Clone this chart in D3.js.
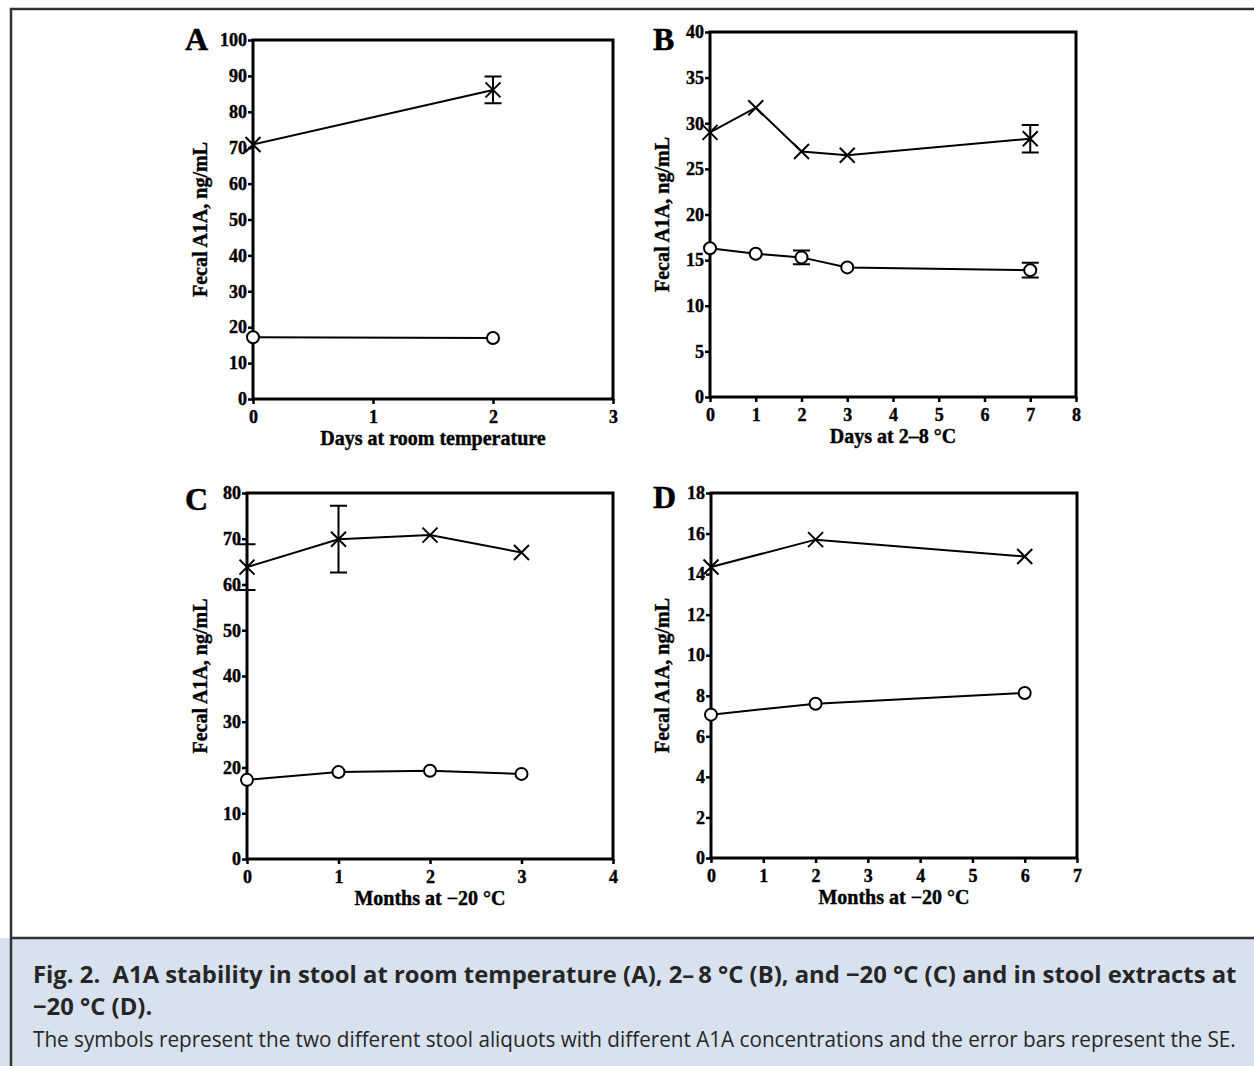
<!DOCTYPE html>
<html>
<head>
<meta charset="utf-8">
<script src="https://cdn.jsdelivr.net/npm/d3@7"></script>
<style>
  body { margin: 0; background: #fff; }
  svg { display: block; }
</style>
</head>
<body>
<svg width="1254" height="1066"></svg>
<script>
// Panel A: days at room temperature
const daysA = [0, 2];
const crossA = [70.9, 86.1];
const crossErrA = [0, 3.7];
const circleA = [17.2, 17.0];
const circleErrA = [0, 0];
const xTicksA = [0, 1, 2, 3];
const yTicksA = [0, 10, 20, 30, 40, 50, 60, 70, 80, 90, 100];

// Panel B: days at 2-8 C
const daysB = [0, 1, 2, 3, 7];
const crossB = [29.0, 31.7, 26.9, 26.5, 28.3];
const crossErrB = [0, 0, 0, 0, 1.5];
const circleB = [16.3, 15.7, 15.3, 14.2, 13.9];
const circleErrB = [0, 0, 0.75, 0, 0.8];
const xTicksB = [0, 1, 2, 3, 4, 5, 6, 7, 8];
const yTicksB = [0, 5, 10, 15, 20, 25, 30, 35, 40];

// Panel C: months at -20 C (stool)
const monthsC = [0, 1, 2, 3];
const crossC = [63.8, 69.9, 70.8, 67.0];
const crossErrC = [5.0, 7.3, 0, 0];
const circleC = [17.3, 19.0, 19.3, 18.6];
const circleErrC = [0, 0, 0, 0];
const xTicksC = [0, 1, 2, 3, 4];
const yTicksC = [0, 10, 20, 30, 40, 50, 60, 70, 80];

// Panel D: months at -20 C (extracts)
const monthsD = [0, 2, 6];
const crossD = [14.35, 15.7, 14.87];
const crossErrD = [0, 0, 0];
const circleD = [7.07, 7.61, 8.14];
const circleErrD = [0, 0, 0];
const xTicksD = [0, 1, 2, 3, 4, 5, 6, 7];
const yTicksD = [0, 2, 4, 6, 8, 10, 12, 14, 16, 18];

const panelLetters = ["A", "B", "C", "D"];
const xTitles = ["Days at room temperature", "Days at 2\u20138 \u00b0C", "Months at \u221220 \u00b0C", "Months at \u221220 \u00b0C"];
const yTitle = "Fecal A1A, ng/mL";

const captionTitle1 = "Fig. 2.\u00a0\u00a0A1A stability in stool at room temperature (A), 2\u2013\u20098 \u00b0C (B), and \u221220 \u00b0C (C) and in stool extracts at";
const captionTitle2 = "\u221220 \u00b0C (D).";
const captionText = "The symbols represent the two different stool aliquots with different A1A concentrations and the error bars represent the SE.";

const svg = d3.select("svg");
const serif = "'Liberation Serif', 'Times New Roman', serif";
const sans = "'Open Sans', 'Noto Sans', sans-serif";

// frame + caption box
svg.append("rect").attr("x", 0).attr("y", 938).attr("width", 1254).attr("height", 128).attr("fill", "#d8e1ee");
svg.append("path")
  .attr("d", "M11,1066 V9 H1254 M11,938 H1254")
  .attr("fill", "none").attr("stroke", "#333").attr("stroke-width", 2.5);

const panels = [
  { x: daysA, cross: crossA, crossErr: crossErrA, circle: circleA, circleErr: circleErrA,
    xTicks: xTicksA, yTicks: yTicksA, xMax: 3, yMax: 100,
    left: 253, right: 613, top: 40, bottom: 399, titleOff: 53, letterX: 185, letterY: 50 },
  { x: daysB, cross: crossB, crossErr: crossErrB, circle: circleB, circleErr: circleErrB,
    xTicks: xTicksB, yTicks: yTicksB, xMax: 8, yMax: 40,
    left: 710, right: 1076, top: 32, bottom: 397, titleOff: 48, letterX: 653, letterY: 50 },
  { x: monthsC, cross: crossC, crossErr: crossErrC, circle: circleC, circleErr: circleErrC,
    xTicks: xTicksC, yTicks: yTicksC, xMax: 4, yMax: 80,
    left: 247, right: 613, top: 493, bottom: 859, titleOff: 47, letterX: 185, letterY: 510 },
  { x: monthsD, cross: crossD, crossErr: crossErrD, circle: circleD, circleErr: circleErrD,
    xTicks: xTicksD, yTicks: yTicksD, xMax: 7, yMax: 18,
    left: 711, right: 1077, top: 493, bottom: 858, titleOff: 49, letterX: 653, letterY: 508 }
];

const crossSize = 7.5;
const capHalf = 8.5;

panels.forEach((p, i) => {
  const x = d3.scaleLinear().domain([0, p.xMax]).range([p.left, p.right]);
  const y = d3.scaleLinear().domain([0, p.yMax]).range([p.bottom, p.top]);
  const g = svg.append("g");

  const yAxis = g.append("g")
    .attr("transform", `translate(${p.left},0)`)
    .call(d3.axisLeft(y).tickValues(p.yTicks).tickFormat(d3.format("d"))
      .tickSize(5).tickPadding(1).tickSizeOuter(0));
  const xAxis = g.append("g")
    .attr("transform", `translate(0,${p.bottom})`)
    .call(d3.axisBottom(x).tickValues(p.xTicks).tickFormat(d3.format("d"))
      .tickSize(5).tickPadding(6).tickSizeOuter(0));
  [yAxis, xAxis].forEach(a => {
    a.select(".domain").remove();
    a.selectAll(".tick line").attr("stroke", "#000").attr("stroke-width", 2.5);
    a.selectAll(".tick text")
      .attr("fill", "#000").attr("stroke", "#000").attr("stroke-width", 0.4)
      .style("font-family", serif).style("font-weight", "bold").style("font-size", "18px");
  });

  g.append("rect")
    .attr("x", p.left).attr("y", p.top)
    .attr("width", p.right - p.left).attr("height", p.bottom - p.top)
    .attr("fill", "none").attr("stroke", "#000").attr("stroke-width", 3);

  // axis titles
  g.append("text")
    .attr("x", (p.left + p.right) / 2).attr("y", p.bottom + 46)
    .attr("text-anchor", "middle").attr("stroke", "#000").attr("stroke-width", 0.4)
    .style("font-family", serif).style("font-weight", "bold").style("font-size", "20px")
    .text(xTitles[i]);
  g.append("text")
    .attr("transform", `translate(${p.left - p.titleOff + 7},${(p.top + p.bottom) / 2}) rotate(-90)`)
    .attr("text-anchor", "middle").attr("stroke", "#000").attr("stroke-width", 0.4)
    .style("font-family", serif).style("font-weight", "bold").style("font-size", "20px")
    .text(yTitle);
  g.append("text")
    .attr("x", p.letterX).attr("y", p.letterY)
    .attr("stroke", "#000").attr("stroke-width", 0.5)
    .style("font-family", serif).style("font-weight", "bold").style("font-size", "32px")
    .text(panelLetters[i]);

  const line = d3.line().x(d => x(d[0])).y(d => y(d[1]));
  const crossPts = p.x.map((v, k) => [v, p.cross[k], p.crossErr[k]]);
  const circlePts = p.x.map((v, k) => [v, p.circle[k], p.circleErr[k]]);

  [crossPts, circlePts].forEach(pts => {
    g.append("path").attr("d", line(pts))
      .attr("fill", "none").attr("stroke", "#000").attr("stroke-width", 2);
    const err = pts.filter(d => d[2] > 0);
    g.selectAll(null).data(err).join("path")
      .attr("d", d => {
        const cx = x(d[0]), y1 = y(d[1] + d[2]), y2 = y(d[1] - d[2]);
        return `M${cx},${y1}V${y2}M${cx - capHalf},${y1}H${cx + capHalf}M${cx - capHalf},${y2}H${cx + capHalf}`;
      })
      .attr("fill", "none").attr("stroke", "#000").attr("stroke-width", 2);
  });

  g.selectAll(null).data(crossPts).join("path")
    .attr("transform", d => `translate(${x(d[0])},${y(d[1])})`)
    .attr("d", `M${-crossSize},${-crossSize}L${crossSize},${crossSize}M${-crossSize},${crossSize}L${crossSize},${-crossSize}`)
    .attr("fill", "none").attr("stroke", "#000").attr("stroke-width", 2);

  g.selectAll(null).data(circlePts).join("circle")
    .attr("cx", d => x(d[0])).attr("cy", d => y(d[1])).attr("r", 6)
    .attr("fill", "#fff").attr("stroke", "#000").attr("stroke-width", 2);
});

// caption, squeezed to the reference width
function fitLine(txt, yPos, size, weight, scale) {
  return svg.append("text")
    .attr("transform", `translate(33,${yPos}) scale(${scale},1)`)
    .attr("fill", "#262626")
    .style("font-family", sans).style("font-weight", weight).style("font-size", size + "px")
    .text(txt);
}
function measure(txt, size, weight) {
  const t = svg.append("text").style("font-family", sans).style("font-weight", weight)
    .style("font-size", size + "px").text(txt);
  const w = t.node().getComputedTextLength();
  t.remove();
  return w;
}
const boldScale = 1204 / measure(captionTitle1, 24, "bold");
fitLine(captionTitle1, 983, 24, "bold", boldScale);
fitLine(captionTitle2, 1015, 24, "bold", boldScale);
const regScale = 1204 / measure(captionText, 21, "normal");
fitLine(captionText, 1047, 21, "normal", regScale);
</script>
</body>
</html>
